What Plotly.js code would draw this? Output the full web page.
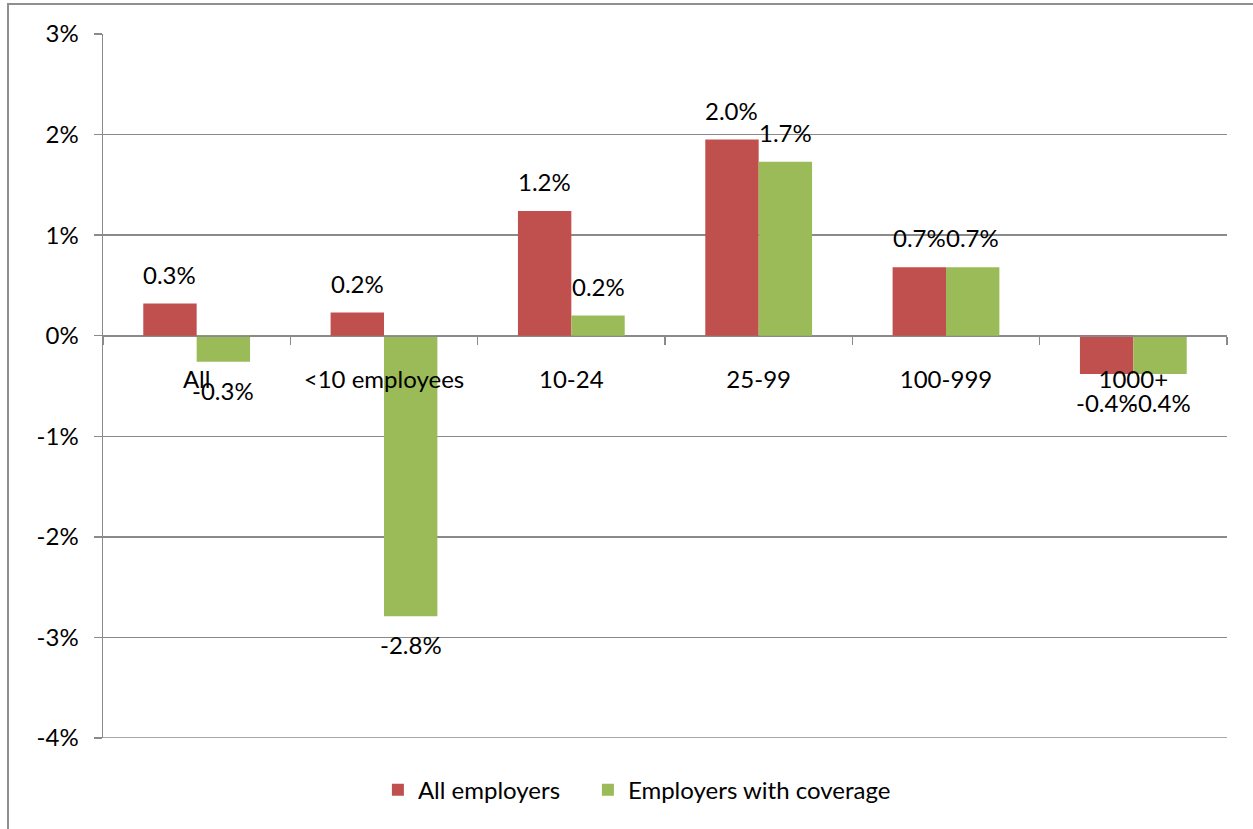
<!DOCTYPE html>
<html>
<head>
<meta charset="utf-8">
<script src="https://cdn.plot.ly/plotly-3.0.1.min.js"></script>
<style>
html,body{margin:0;padding:0;background:#fff;}
#chart{position:absolute;left:0;top:0;width:1253px;height:829px;}
#frame{position:absolute;left:7px;top:3px;width:1260px;height:840px;border-left:2px solid #8f8f8f;border-top:2px solid #8f8f8f;pointer-events:none;}
</style>
</head>
<body>
<div id="chart"></div>
<div id="frame"></div>
<script>
const categories = ["All", "<10 employees", "10-24", "25-99", "100-999", "1000+"];
const allEmployers = [0.32, 0.23, 1.24, 1.95, 0.68, -0.38];
const withCoverage = [-0.26, -2.79, 0.20, 1.73, 0.68, -0.38];
const labelsAll = ["0.3%", "0.2%", "1.2%", "2.0%", "0.7%", "-0.4%"];
const labelsCov = ["-0.3%", "-2.8%", "0.2%", "1.7%", "0.7%", "-0.4%"];
const yTicks = [-4, -3, -2, -1, 0, 1, 2, 3];
const yTickText = ["-4%", "-3%", "-2%", "-1%", "0%", "1%", "2%", "3%"];

const FONT = "Lato, 'Open Sans', sans-serif";
const FS = 24;
const RED = "#C0504D", GREEN = "#9BBB59", GRID = "#8a8a8a";

const W = 1253, H = 829;
const margin = {l: 103, r: 26, t: 34, b: 91};
const plotW = W - margin.l - margin.r;
const catW = plotW / categories.length;
const bargap = 0.43;
const barW = catW * (1 - bargap) / 2;

const traces = [
  {type: "bar", name: "All employers", x: categories, y: allEmployers, marker: {color: RED},
   hoverinfo: "skip", legendwidth: 165},
  {type: "bar", name: "Employers with coverage", x: categories, y: withCoverage, marker: {color: GREEN},
   hoverinfo: "skip"}
];

const annotations = [];
function addLabels(vals, labels, side) {
  vals.forEach((v, i) => {
    annotations.push({
      x: categories[i], y: v, xref: "x", yref: "y",
      text: labels[i], showarrow: false,
      xshift: side * barW / 2,
      yanchor: v >= 0 ? "bottom" : "top",
      yshift: v >= 0 ? 13 : -12,
      font: {family: FONT, size: FS, color: "#000"}
    });
  });
}
addLabels(allEmployers, labelsAll, -1);
addLabels(withCoverage, labelsCov, 1);

const layout = {
  width: W, height: H,
  margin: margin,
  paper_bgcolor: "#fff", plot_bgcolor: "#fff",
  barmode: "group", bargap: bargap, bargroupgap: 0,
  showlegend: true,
  legend: {orientation: "h", x: 0.475, xanchor: "center", y: -0.074, yanchor: "middle",
           font: {family: FONT, size: FS, color: "#000"}, itemwidth: 30, traceorder: "normal"},
  xaxis: {
    type: "category", anchor: "free", position: 4/7,
    showline: true, linecolor: GRID, linewidth: 1.5,
    ticks: "outside", tickson: "boundaries", ticklen: 8, tickcolor: GRID, tickwidth: 1.5,
    ticklabelstandoff: 22,
    tickfont: {family: FONT, size: FS, color: "#000"},
    showgrid: false, zeroline: false, fixedrange: true
  },
  yaxis: {
    range: [-4, 3], domain: [0, 1],
    tickvals: yTicks, ticktext: yTickText,
    showgrid: true, gridcolor: GRID, gridwidth: 1.5,
    zeroline: false,
    showline: true, linecolor: GRID, linewidth: 1.5,
    ticks: "outside", ticklen: 8, tickcolor: GRID, tickwidth: 1.5,
    ticklabelstandoff: 10,
    tickfont: {family: FONT, size: FS, color: "#000"},
    fixedrange: true
  },
  shapes: [
    {type: "line", xref: "paper", yref: "y", x0: 0, x1: 1, y0: -4, y1: -4,
     line: {color: GRID, width: 1.5}, layer: "below"}
  ],
  annotations: annotations
};

Plotly.newPlot("chart", traces, layout, {displayModeBar: false, staticPlot: true});
</script>
</body>
</html>
